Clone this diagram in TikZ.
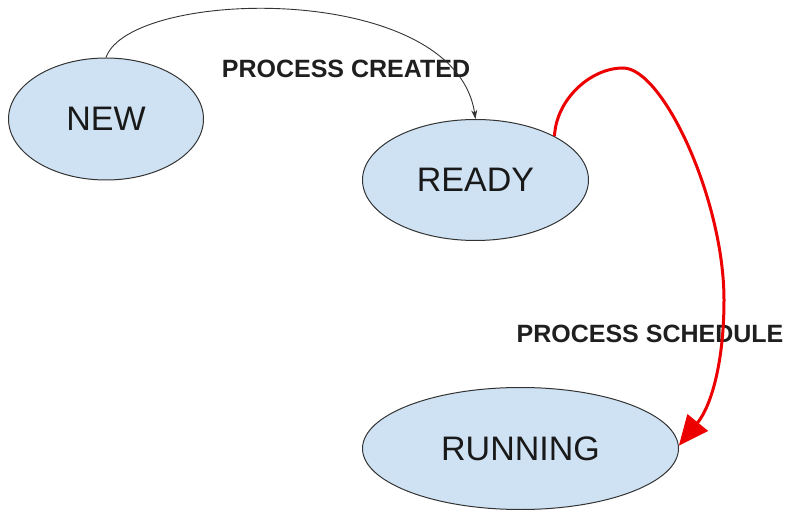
\documentclass[tikz,border=0pt]{standalone}
\usepackage{fontspec}
\setmainfont{Liberation Sans}
\usetikzlibrary{arrows.meta,positioning,shapes.geometric}
\definecolor{statefill}{RGB}{207,226,243}
\definecolor{schedred}{RGB}{236,0,0}

\begin{document}
\begin{tikzpicture}[x=1pt,y=-1pt,
	state/.style={ellipse,draw=black!80,line width=1pt,fill=statefill,inner sep=0pt,font=\fontsize{34}{40}\selectfont,text=black!90},
	trans/.style={inner sep=0pt,font=\bfseries\fontsize{25}{29}\selectfont,text=black!88},
	created/.style={-{Stealth[length=9pt,width=6pt]},line width=0.9pt,draw=black!80},
	schedule/.style={-{Triangle[length=30pt,width=26pt]},line width=3pt,draw=schedred}
	] % states and transitions
\useasboundingbox (0,0) rectangle (787,510);

\node [state,minimum width=195pt,minimum height=122pt] at (106,119) (new) {NEW};
\node [state,minimum width=226pt,minimum height=121pt] (ready) [right=158pt of new, yshift=-61pt] {READY};
\node [state,minimum width=316pt,minimum height=122pt] (running) [below=146pt of ready, xshift=45pt] {RUNNING};

\node [trans] at (346,68.5) (lcreated) {PROCESS CREATED};
\node [trans] at (650,333.5) (lschedule) {PROCESS SCHEDULE};

\draw [created] (new.north) .. controls (130,-12) and (455,-20) .. (ready.north);
\draw [schedule] (ready.29) .. controls (556,100) and (590,68) .. (623,68)
	.. controls (663,68) and (724,200) .. (724,300)
	.. controls (724,360) and (712,405) .. (running.1);
\end{tikzpicture}
\end{document}
